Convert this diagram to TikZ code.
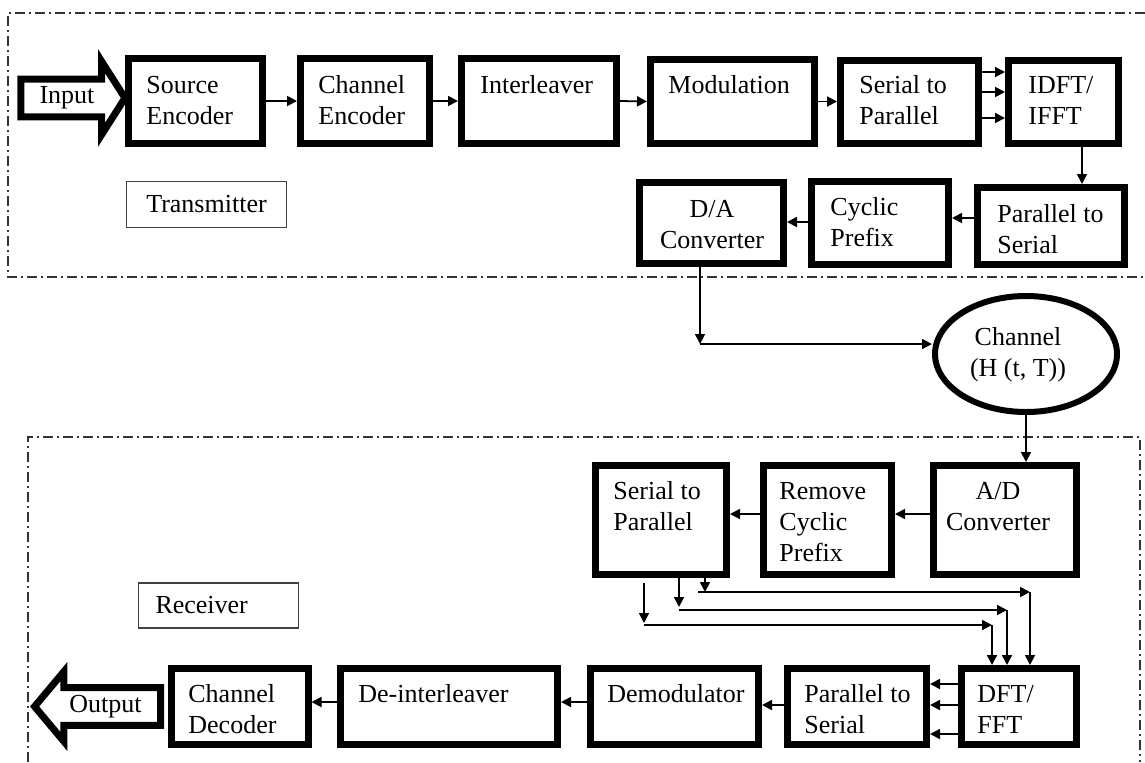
\documentclass[tikz,border=0pt]{standalone}
\usepackage{fontspec}
\setmainfont{Liberation Serif}
\usetikzlibrary{arrows.meta,shapes.geometric,shapes.arrows}
\begin{document}
\begin{tikzpicture}[x=0.5pt,y=-0.5pt,
  every node/.style={font=\fontsize{13}{15.5}\selectfont},
  blk/.style 2 args={draw,line width=3.5pt,fill=white,inner sep=0pt,minimum width=#1,minimum height=#2},
  txt/.style={anchor=base west,align=left,inner sep=0pt},
  lbl/.style={draw=black!75,line width=0.6pt,minimum width=80pt,minimum height=23pt},
  arr/.style={line width=0.9pt,-{Triangle[length=5pt,width=5pt]}},
  frame/.style={black!80,line width=0.7pt,dash pattern=on 5pt off 2pt on 1pt off 2pt},
  hollow/.style={single arrow,draw,line width=3.5pt,fill=white,inner xsep=0pt,inner ysep=2pt}]
\useasboundingbox (0,0) rectangle (1145,762);
\draw[frame] (1145,13) -- (8,13) -- (8,277) -- (1145,277);
\draw[frame] (28,762) -- (28,437) -- (1140,437) -- (1140,762);
% transmitter (text nodes are anchored on the baseline of their last line)
\node[hollow,minimum height=52pt,minimum width=34pt,single arrow head extend=9pt,single arrow tip angle=115] (input) at (67,98) {Input};
\node[blk={67pt}{42.5pt}] (senc) at (195.5,101) {};
\node[txt] (senc-t) at (146,124) {Source\\Encoder};
\node[blk={64.5pt}{42.5pt}] (cenc) at (365,101) {};
\node[txt] (cenc-t) at (318,124) {Channel\\Encoder};
\node[blk={77.5pt}{42.5pt}] (intl) at (539,101) {};
\node[txt] (intl-t) at (480,93) {Interleaver};
\node[blk={82pt}{42pt}] (modu) at (732.5,101.5) {};
\node[txt] (modu-t) at (668,93) {Modulation};
\node[blk={69pt}{41.5pt}] (ts2p) at (909.5,102) {};
\node[txt] (ts2p-t) at (859,124) {Serial to\\Parallel};
\node[blk={55pt}{41.5pt}] (idft) at (1063.5,102) {};
\node[txt] (idft-t) at (1028,124) {IDFT/\\IFFT};
\node[blk={73.5pt}{38.5pt}] (tp2s) at (1051,226) {};
\node[txt] (tp2s-t) at (997,253) {Parallel to\\Serial};
\node[blk={68.5pt}{41.5pt}] (cycp) at (880,223) {};
\node[txt] (cycp-t) at (830,246) {Cyclic\\Prefix};
\node[blk={72pt}{40.5pt}] (dac) at (711.5,223) {};
\node[txt,anchor=base,align=center] (dac-t) at (712,248) {D/A\\Converter};
\node[lbl] (txlbl) at (206.5,204.5) {Transmitter};
\draw[arr] (senc.east) -- (cenc.west);
\draw[arr] (cenc.east) -- (intl.west);
\draw[arr] (intl.east) -- (modu.west);
\draw[arr] (modu.east) -- (modu.east -| ts2p.west);
\foreach \y in {72,92,118}
  \draw[arr] (ts2p.east |- 0,\y) -- (idft.west |- 0,\y);
\draw[arr] (idft.south -| 1082,0) -- (tp2s.north -| 1082,0);
\draw[arr] (tp2s.west |- 0,218) -- (cycp.east |- 0,218);
\draw[arr] (cycp.west |- 0,222) -- (dac.east |- 0,222);
% channel
\node[draw,ellipse,line width=3pt,minimum width=91pt,minimum height=58pt] (chan) at (1026,354) {};
\node[txt,anchor=base,align=center] (chan-t) at (1018,376) {Channel\\(H (t, T))};
\coordinate (dabend) at (700,344);
\draw[arr] (dac.south -| dabend) -- (dabend);
\draw[arr] (dabend) -- (dabend -| chan.west);
% receiver
\node[blk={71.5pt}{54.5pt}] (adc) at (1005,520) {};
\node[txt,anchor=base,align=center] (adc-t) at (998,530) {A/D\\Converter};
\node[blk={64pt}{54.5pt}] (rcp) at (827.5,520) {};
\node[txt] (rcp-t) at (779,561) {Remove\\Cyclic\\Prefix};
\node[blk={65.5pt}{54.5pt}] (rs2p) at (661,520) {};
\node[txt] (rs2p-t) at (613,530) {Serial to\\Parallel};
\node[lbl,text width=63pt,inner xsep=8.5pt,align=left,minimum height=22.5pt] (rxlbl) at (218.5,605.5) {Receiver};
\node[blk={57.5pt}{38pt}] (dft) at (1019,706.5) {};
\node[txt] (dft-t) at (977,733) {DFT/\\FFT};
\node[blk={69.5pt}{38pt}] (rp2s) at (857,706.5) {};
\node[txt] (rp2s-t) at (804,733) {Parallel to\\Serial};
\node[blk={84pt}{38pt}] (demod) at (674.5,706.5) {};
\node[txt] (demod-t) at (607,702) {Demodulator};
\node[blk={108.5pt}{38pt}] (dint) at (449,706.5) {};
\node[txt] (dint-t) at (358,702) {De-interleaver};
\node[hollow,shape border rotate=180,minimum height=63pt,minimum width=33.5pt,single arrow head extend=8pt,single arrow tip angle=100] (output) at (105.5,706.5) {Output};
\node[blk={68.5pt}{38pt}] (cdec) at (239.5,706.5) {};
\node[txt] (cdec-t) at (188,733) {Channel\\Decoder};
\draw[arr] (chan.south) -- (adc.north -| chan.south);
\draw[arr] (adc.west |- 0,514) -- (rcp.east |- 0,514);
\draw[arr] (rcp.west |- 0,514) -- (rs2p.east |- 0,514);
\coordinate (sa) at (705,592); \coordinate (sb) at (679,607); \coordinate (sc) at (644,623);
\draw[arr] (rs2p.south -| sa) -- (sa);
\draw[arr] (698,592) -- (1030,592);
\draw[arr] (1030,592) -- (dft.north -| 1030,0);
\draw[arr] (rs2p.south -| sb) -- (sb);
\draw[arr] (679,610) -- (1007,610);
\draw[arr] (1007,610) -- (dft.north -| 1007,0);
\draw[arr] (644,583) -- (sc);
\draw[arr] (644,625) -- (992,625);
\draw[arr] (992,625) -- (dft.north -| 992,0);
\foreach \y in {684,705,734}
  \draw[arr] (dft.west |- 0,\y) -- (rp2s.east |- 0,\y);
\draw[arr] (rp2s.west |- 0,705) -- (demod.east |- 0,705);
\draw[arr] (demod.west |- 0,702) -- (dint.east |- 0,702);
\draw[arr] (dint.west |- 0,702) -- (cdec.east |- 0,702);
\end{tikzpicture}
\end{document}
